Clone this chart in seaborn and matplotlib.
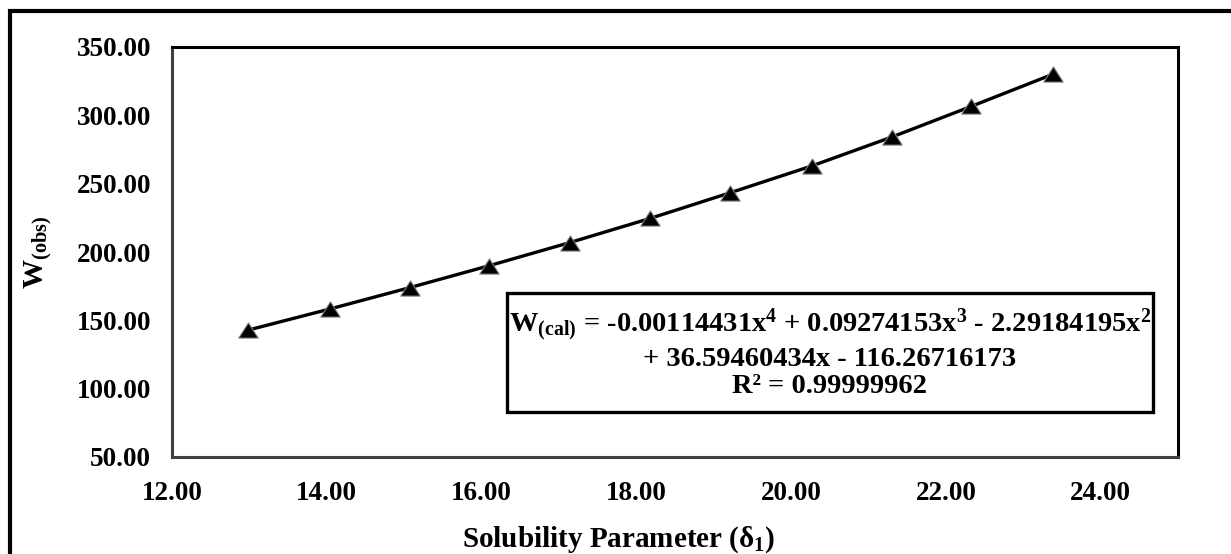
import numpy as np
import pandas as pd
import matplotlib
matplotlib.use("Agg")
import matplotlib.pyplot as plt
import seaborn as sns
from matplotlib.patches import Rectangle
from matplotlib.path import Path
from matplotlib.ticker import FormatStrFormatter

# ---- data ----
delta = [12.98, 14.04, 15.07, 16.10, 17.14, 18.18, 19.21, 20.27, 21.31, 22.33, 23.38]
w_obs = [142.8, 158.3, 173.9, 190.0, 206.9, 224.6, 243.3, 263.0, 284.3, 306.6, 330.0]
x_ticks = [12, 14, 16, 18, 20, 22, 24]
y_ticks = [50, 100, 150, 200, 250, 300, 350]
equation_lines = ["W$_{(cal)}$ = -0.00114431x$^4$ + 0.09274153x$^3$ - 2.29184195x$^2$",
                  "+ 36.59460434x - 116.26716173",
                  "R² = 0.99999962"]

sns.set_theme(style="white")
plt.rcParams['font.family'] = ['Liberation Serif', 'DejaVu Serif']
plt.rcParams['font.weight'] = 'bold'
plt.rcParams['mathtext.fontset'] = 'custom'
plt.rcParams['mathtext.rm'] = 'Liberation Serif:bold'
plt.rcParams['mathtext.it'] = 'Liberation Serif:bold'
plt.rcParams['mathtext.bf'] = 'Liberation Serif:bold'

W, H = 1231, 554
fig = plt.figure(figsize=(W / 100, H / 100), dpi=100)
fig.patch.set_facecolor('white')

L, R, T, B = 172, 1178, 47, 457
ax = fig.add_axes([L / W, 1 - B / H, (R - L) / W, (B - T) / H])

tri = Path([(-1, -0.78), (1, -0.78), (0, 0.78), (-1, -0.78)],
           [Path.MOVETO, Path.LINETO, Path.LINETO, Path.CLOSEPOLY])

df = pd.DataFrame({'delta': delta, 'w': w_obs})
sns.lineplot(data=df, x='delta', y='w', ax=ax, color='black', linewidth=2.4,
             marker=tri, markersize=14, markerfacecolor='black',
             markeredgecolor='#808080', markeredgewidth=0.8)

ax.set_xlim(12, 25)
ax.set_ylim(50, 350)
ax.set_xticks(x_ticks)
ax.set_yticks(y_ticks)
ax.xaxis.set_major_formatter(FormatStrFormatter('%.2f'))
ax.yaxis.set_major_formatter(FormatStrFormatter('%.2f'))
ax.tick_params(axis='both', length=0, labelsize=19.5, colors='black')
ax.tick_params(axis='x', pad=17)
ax.tick_params(axis='y', pad=15)
for lab in ax.get_xticklabels() + ax.get_yticklabels():
    lab.set_fontweight('bold')
ax.grid(False)

for side in ['left', 'bottom']:
    ax.spines[side].set_color('#404040')
    ax.spines[side].set_linewidth(2.2)
for side in ['top', 'right']:
    ax.spines[side].set_color('black')
    ax.spines[side].set_linewidth(2.2)

ax.set_xlabel("Solubility Parameter (δ$_1$)", fontsize=21, fontweight='bold', color='black')
ax.set_ylabel("W$_{(obs)}$", fontsize=21, fontweight='bold', color='black')
ax.xaxis.label.set_va('center')
ax.yaxis.label.set_va('center')
ax.xaxis.set_label_coords((619 - L) / (R - L), (B - 540) / (B - T))
ax.yaxis.set_label_coords((38 - L) / (R - L), 0.5)

# equation box
bx0, bx1, by0, by1 = 507, 1153, 293, 412
fig.patches.append(Rectangle((bx0 / W, 1 - by1 / H), (bx1 - bx0) / W, (by1 - by0) / H,
                             transform=fig.transFigure, facecolor='white',
                             edgecolor='black', linewidth=2.4, zorder=5))
baselines = [332, 366, 393]
for txt, yb in zip(equation_lines, baselines):
    fig.text(((bx0 + bx1) / 2) / W, 1 - yb / H, txt,
             ha='center', va='baseline', fontsize=20.5,
             fontweight='bold', color='black', zorder=6)

# outer chart border (cropped at right and bottom)
fig.patches.append(Rectangle((10 / W, -0.2), 2.0, 1.2 - 11 / H,
                             transform=fig.transFigure, facecolor='none',
                             edgecolor='black', linewidth=3.0, zorder=7))

fig.savefig('out.png', dpi=100)
